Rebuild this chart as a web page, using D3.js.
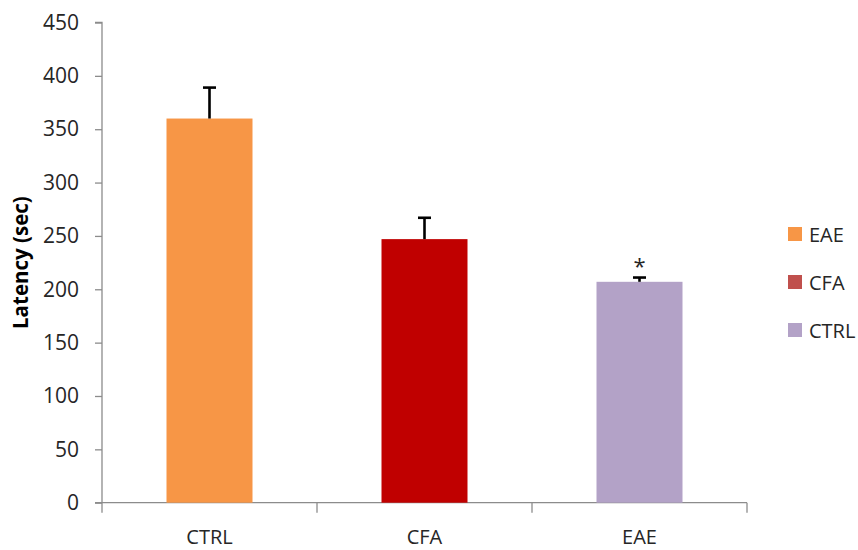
<!DOCTYPE html>
<html>
<head>
<meta charset="utf-8">
<script src="https://cdn.jsdelivr.net/npm/d3@7"></script>
<style>
  body { margin: 0; background: #fff; }
  svg { display: block; }
  text { font-family: "Open Sans", "Noto Sans", sans-serif; }
</style>
</head>
<body>
<svg id="chart" width="858" height="550"></svg>
<script>
// Latency per group, with standard error
const groups = ["CTRL", "CFA", "EAE"];
const latency = [360, 247, 207];
const stdError = [29, 20, 4];
const significant = [false, false, true];
const barColors = ["#f79646", "#c00000", "#b3a2c7"];

const legendLabels = ["EAE", "CFA", "CTRL"];
const legendColors = ["#f79646", "#c0504d", "#b3a2c7"];

const yTicks = [0, 50, 100, 150, 200, 250, 300, 350, 400, 450];

const svg = d3.select("#chart");
const margin = { left: 102, right: 111, top: 22.5, bottom: 47.3 };
const W = 858, H = 550;

const x = d3.scaleBand()
  .domain(groups)
  .range([margin.left, W - margin.right])
  .paddingInner(0.6)
  .paddingOuter(0.3);

const xCat = d3.scaleBand()
  .domain(groups)
  .range([margin.left, W - margin.right]);

const y = d3.scaleLinear()
  .domain([0, 450])
  .range([H - margin.bottom, margin.top]);

const axisColor = "#8c8c8c";

// y axis
const yAxis = svg.append("g")
  .attr("transform", `translate(${margin.left},0)`)
  .call(d3.axisLeft(y).tickValues(yTicks).tickSize(7).tickPadding(16));
yAxis.select(".domain").attr("stroke", axisColor).attr("stroke-width", 1.3)
  .attr("d", `M-7,${y(450)}H0V${y(0)}`);
yAxis.selectAll(".tick line").attr("stroke", axisColor).attr("stroke-width", 1.3);
yAxis.selectAll(".tick text").attr("fill", "#262626").style("font-size", "21px");

// x axis: boundaries between categories get downward ticks
const xAxisY = y(0);
const xg = svg.append("g");
xg.append("line")
  .attr("x1", margin.left - 7).attr("x2", W - margin.right)
  .attr("y1", xAxisY).attr("y2", xAxisY)
  .attr("stroke", axisColor).attr("stroke-width", 1.3);
const bounds = groups.map(g => xCat(g)).concat([xCat(groups[groups.length - 1]) + xCat.bandwidth()]);
xg.selectAll("line.b").data(bounds).enter().append("line")
  .attr("class", "b")
  .attr("x1", d => d).attr("x2", d => d)
  .attr("y1", xAxisY).attr("y2", xAxisY + 10)
  .attr("stroke", axisColor).attr("stroke-width", 1.3);
xg.selectAll("text").data(groups).enter().append("text")
  .attr("x", d => xCat(d) + xCat.bandwidth() / 2)
  .attr("y", xAxisY + 41)
  .attr("text-anchor", "middle")
  .attr("fill", "#262626")
  .style("font-size", "20px")
  .text(d => d);

// bars
svg.selectAll("rect.bar").data(groups).enter().append("rect")
  .attr("class", "bar")
  .attr("x", d => x(d))
  .attr("width", x.bandwidth())
  .attr("y", (d, i) => y(latency[i]))
  .attr("height", (d, i) => y(0) - y(latency[i]))
  .attr("fill", (d, i) => barColors[i]);

// error bars (upper only)
const eb = svg.selectAll("g.err").data(groups).enter().append("g").attr("class", "err");
eb.append("line")
  .attr("x1", d => x(d) + x.bandwidth() / 2)
  .attr("x2", d => x(d) + x.bandwidth() / 2)
  .attr("y1", (d, i) => y(latency[i]))
  .attr("y2", (d, i) => y(latency[i] + stdError[i]))
  .attr("stroke", "#000").attr("stroke-width", 2.6);
eb.append("line")
  .attr("x1", d => x(d) + x.bandwidth() / 2 - 6.5)
  .attr("x2", d => x(d) + x.bandwidth() / 2 + 6.5)
  .attr("y1", (d, i) => y(latency[i] + stdError[i]))
  .attr("y2", (d, i) => y(latency[i] + stdError[i]))
  .attr("stroke", "#000").attr("stroke-width", 2.6);

// significance marker
svg.selectAll("text.sig").data(groups.filter((d, i) => significant[i])).enter().append("text")
  .attr("class", "sig")
  .attr("x", d => x(d) + x.bandwidth() / 2)
  .attr("y", d => y(latency[groups.indexOf(d)] + stdError[groups.indexOf(d)]) - 4)
  .attr("text-anchor", "middle")
  .attr("fill", "#262626")
  .style("font-size", "22px")
  .text("*");

// y axis title
svg.append("text")
  .attr("transform", `translate(28,${(y(0) + y(450)) / 2}) rotate(-90)`)
  .attr("text-anchor", "middle")
  .attr("fill", "#000")
  .style("font-size", "20.5px")
  .style("font-weight", "bold")
  .text("Latency (sec)");

// legend
const lg = svg.append("g").attr("transform", "translate(788,227)");
const li = lg.selectAll("g").data(legendLabels).enter().append("g")
  .attr("transform", (d, i) => `translate(0,${i * 48})`);
li.append("rect").attr("width", 14).attr("height", 14)
  .attr("fill", (d, i) => legendColors[i]);
li.append("text").attr("x", 21).attr("y", 14.5)
  .attr("fill", "#262626")
  .style("font-size", "20px")
  .text(d => d);
</script>
</body>
</html>
